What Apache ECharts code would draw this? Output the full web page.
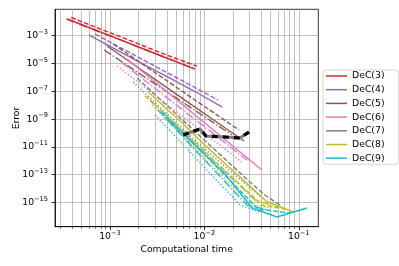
<!DOCTYPE html>
<html><head><meta charset="utf-8">
<script src="https://cdn.jsdelivr.net/npm/echarts@6/dist/echarts.min.js"></script>
<style>html,body{margin:0;padding:0;background:#fff}#c{width:399px;height:266px}</style>
</head><body><div id="c"></div>
<script>
// ---------- data (computational time, error) ----------
const methods = ['DeC(3)','DeC(4)','DeC(5)','DeC(6)','DeC(7)','DeC(8)','DeC(9)'];
const colors = ['#d62728','#9467bd','#8c564b','#e377c2','#7f7f7f','#bcbd22','#17becf'];

const dec3SolidT = [3.63e-4, 6.76e-4, 1.26e-3, 2.29e-3, 4.27e-3, 7.94e-3];
const dec3SolidE = [1.48e-2, 2.88e-3, 5.50e-4, 1.07e-4, 2.09e-5, 3.98e-6];
const dec3DashedT = [3.89e-4, 7.2e-4, 1.35e-3, 2.45e-3, 4.5e-3, 8.3e-3];
const dec3DashedE = [2.04e-2, 3.9e-3, 7.6e-4, 1.5e-4, 3.0e-5, 6.6e-6];
const dec3DashDotT = [3.45e-4, 6.4e-4, 1.2e-3, 2.2e-3, 4.1e-3, 7.6e-3];
const dec3DashDotE = [1.6e-2, 3.1e-3, 6.0e-4, 1.2e-4, 2.3e-5, 4.7e-6];

const dec4SolidT = [6.03e-4, 1.15e-3, 2.19e-3, 4.27e-3, 8.13e-3, 1.55e-2];
const dec4SolidE = [1.12e-3, 1.05e-4, 1.0e-5, 9.3e-7, 8.9e-8, 7.4e-9];
const dec4DashedT = [6.97e-4, 1.48e-3, 3.12e-3, 6.6e-3, 1.40e-2];
const dec4DashedE = [1.32e-3, 8.6e-5, 5.6e-6, 3.64e-7, 2.37e-8];

const dec5SolidT = [9.33e-4, 2.15e-3, 4.95e-3, 1.14e-2, 2.63e-2];
const dec5SolidE = [1.82e-4, 3.55e-6, 6.9e-8, 1.36e-9, 2.65e-11];
const dec5DashedT = [1.08e-3, 2.33e-3, 5.01e-3, 1.08e-2, 2.33e-2];
const dec5DashedE = [2.53e-4, 7.18e-6, 2.04e-7, 5.79e-9, 1.64e-10];
const dec5DashDotT = [8.69e-4, 2.45e-3, 6.95e-3, 1.96e-2];
const dec5DashDotE = [9.35e-5, 8.57e-7, 7.83e-9, 7.18e-11];

const dec6SolidT = [1.52e-3, 3.46e-3, 7.87e-3, 1.79e-2, 4.08e-2];
const dec6SolidE = [2.11e-5, 2.12e-7, 2.14e-9, 2.16e-11, 2.18e-13];
const dec6DashDotT = [1.315e-3, 3.66e-3, 1.02e-2, 2.83e-2];
const dec6DashDotE = [1.28e-5, 5.73e-8, 2.56e-10, 1.14e-12];
const dec6DottedT = [1.19e-3, 3.31e-3, 9.23e-3, 2.56e-2];
const dec6DottedE = [6.61e-6, 3.12e-8, 1.47e-10, 6.95e-13];

const dec7DashedT = [1.94e-3, 4.89e-3, 1.30e-2, 3.04e-2, 4.38e-2, 6.32e-2];
const dec7DashedE = [9.06e-7, 2.75e-9, 5.98e-12, 2.99e-14, 3.47e-15, 6.6e-16];
const dec7DottedT = [1.76e-3, 8.99e-3, 4.08e-2];
const dec7DottedE = [4.67e-7, 1.37e-11, 2.11e-15];

const dec8SolidT = [2.54e-3, 5.53e-3, 1.15e-2, 2.39e-2, 4.50e-2, 8.69e-2];
const dec8SolidE = [8.9e-8, 7.3e-10, 5.98e-12, 6.84e-14, 1.28e-15, 2.07e-16];
const dec8DashedT = [2.36e-3, 1.02e-2, 4.08e-2, 7.14e-2];
const dec8DashedE = [4.59e-8, 4.30e-12, 6.6e-16, 3.40e-16];
const dec8DashDotT = [2.66e-3, 8.99e-3, 3.44e-2, 6.03e-2];
const dec8DashDotE = [2.37e-8, 8.34e-12, 1.51e-15, 4.74e-16];
const dec8DottedT = [2.80e-3, 3.04e-2, 5.0e-2];
const dec8DottedE = [1.03e-8, 7.80e-16, 4.0e-16];

const dec9SolidT = [3.84e-3, 8.99e-3, 1.66e-2, 3.20e-2, 5.87e-2, 1.22e-1];
const dec9SolidE = [1.42e-9, 5.98e-12, 1.12e-13, 4.02e-16, 9.06e-17, 4.02e-16];
const dec9DashedT = [3.56e-3, 1.02e-2, 3.70e-2, 8.07e-2];
const dec9DashedE = [3.24e-9, 2.61e-12, 3.40e-16, 1.76e-16];
const dec9DashDotT = [3.24e-3, 7.98e-3, 2.83e-2, 4.72e-2];
const dec9DashDotE = [4.52e-9, 5.98e-12, 6.6e-16, 2.88e-16];
const dec9DottedT = [3.01e-3, 7.06e-3, 2.39e-2, 3.88e-2];
const dec9DottedE = [1.97e-9, 4.30e-12, 6.6e-16, 2.07e-16];

// thick grey/black stagnating line
const refT = [5.96e-3, 8.99e-3, 1.04e-2, 1.66e-2, 2.38e-2, 2.97e-2];
const refE = [7.18e-11, 1.94e-10, 6.08e-11, 5.15e-11, 4.37e-11, 1.18e-10];

// axes
const xRange = [2.62e-4, 0.161];
const yRange = [1.82e-17, 7.94e-2];
const xMajorTicks = [1e-3, 1e-2, 1e-1];
const xMinorTicks = [3e-4,4e-4,5e-4,6e-4,7e-4,8e-4,9e-4,2e-3,3e-3,4e-3,5e-3,6e-3,7e-3,8e-3,9e-3,2e-2,3e-2,4e-2,5e-2,6e-2,7e-2,8e-2,9e-2];
const yTicks = [1e-15,1e-13,1e-11,1e-9,1e-7,1e-5,1e-3];

// ---------- build ----------
const L = Math.log10;
const pts = (t, e) => t.map((v, i) => [L(v), L(e[i])]);
const dash = {solid:'solid', dashed:[4.8,2.1], dashdot:[8.3,2.1,1.3,2.1], dotted:[1.3,2.1]};
const lines = [
  [0,'solid',dec3SolidT,dec3SolidE],[0,'dashed',dec3DashedT,dec3DashedE],[0,'dashdot',dec3DashDotT,dec3DashDotE],
  [1,'solid',dec4SolidT,dec4SolidE],[1,'dashed',dec4DashedT,dec4DashedE],
  [2,'solid',dec5SolidT,dec5SolidE],[2,'dashed',dec5DashedT,dec5DashedE],[2,'dashdot',dec5DashDotT,dec5DashDotE],
  [3,'solid',dec6SolidT,dec6SolidE],[3,'dashdot',dec6DashDotT,dec6DashDotE],[3,'dotted',dec6DottedT,dec6DottedE],
  [4,'dashed',dec7DashedT,dec7DashedE],[4,'dotted',dec7DottedT,dec7DottedE],
  [5,'solid',dec8SolidT,dec8SolidE],[5,'dashed',dec8DashedT,dec8DashedE],[5,'dashdot',dec8DashDotT,dec8DashDotE],[5,'dotted',dec8DottedT,dec8DottedE],
  [6,'solid',dec9SolidT,dec9SolidE],[6,'dashed',dec9DashedT,dec9DashedE],[6,'dashdot',dec9DashDotT,dec9DashDotE],[6,'dotted',dec9DottedT,dec9DottedE]
];
const series = lines.map(([ci, st, t, e]) => ({
  type:'line', name: methods[ci], data: pts(t, e), symbol:'none', silent:true,
  lineStyle:{color:colors[ci], width:1.4, type:dash[st]}, itemStyle:{color:colors[ci]}
}));
series.push({type:'line', name:'ref1', data:pts(refT, refE), symbol:'none', silent:true,
  lineStyle:{color:'#7f7f7f', width:3.2, type:'solid'}});
series.push({type:'line', name:'ref2', data:pts(refT, refE), symbol:'none', silent:true,
  lineStyle:{color:'#000000', width:3.2, type:[6,5]}});

const font = 'DejaVu Sans';
const fmt = v => '{b|10}{s|\u2212' + Math.abs(Math.round(v)) + '}';
const rich = {
  b:{fontSize:9.3, fontFamily:font, color:'#000', lineHeight:14},
  s:{fontSize:6.6, fontFamily:font, color:'#000', lineHeight:7, verticalAlign:'top'}
};
const gridLine = {show:true, lineStyle:{color:'#b0b0b0', width:0.8}};

const chart = echarts.init(document.getElementById('c'), null, {renderer:'canvas'});
chart.setOption({
  animation:false,
  backgroundColor:'#fff',
  grid:{left:55, right:80.7, top:9.3, bottom:39.3, show:true, borderColor:'#000', borderWidth:0.8, outerBoundsMode:'none'},
  xAxis:[{
    type:'value', min:L(xRange[0]), max:L(xRange[1]), position:'bottom',
    axisLine:{show:true, onZero:false, lineStyle:{color:'#000', width:0.8}},
    axisTick:{show:true, customValues:xMajorTicks.map(L), length:3.5, lineStyle:{color:'#000', width:0.8}},
    axisLabel:{customValues:xMajorTicks.map(L), formatter:fmt, rich:rich, margin:3, color:'#000'},
    splitLine:gridLine,
    name:'Computational time', nameLocation:'middle', nameGap:18, nameMoveOverlap:false,
    nameTextStyle:{fontSize:9.3, fontFamily:font, color:'#000'}
  },{
    type:'value', min:L(xRange[0]), max:L(xRange[1]), position:'bottom',
    axisLine:{show:false, onZero:false},
    axisTick:{show:true, customValues:xMinorTicks.map(L), length:2, lineStyle:{color:'#000', width:0.6}},
    axisLabel:{show:false},
    splitLine:gridLine
  }],
  yAxis:{
    type:'value', min:L(yRange[0]), max:L(yRange[1]),
    axisLine:{show:true, onZero:false, lineStyle:{color:'#000', width:0.8}},
    axisTick:{show:true, customValues:yTicks.map(L), length:3.5, lineStyle:{color:'#000', width:0.8}},
    axisLabel:{customValues:yTicks.map(L), formatter:fmt, rich:rich, margin:7, color:'#000'},
    splitLine:gridLine,
    name:'Error', nameLocation:'middle', nameGap:34, nameMoveOverlap:false,
    nameTextStyle:{fontSize:9.3, fontFamily:font, color:'#000'}
  },
  legend:{
    data:methods, orient:'vertical', left:323, top:70, icon:'rect',
    itemWidth:21, itemHeight:1.5, itemGap:3.7, padding:[1,14,1,3],
    textStyle:{fontSize:9.3, fontFamily:font, color:'#000', lineHeight:10},
    borderColor:'#cccccc', borderWidth:0.8, borderRadius:3, backgroundColor:'rgba(255,255,255,0.8)',
    selectedMode:false
  },
  series:series
});
</script></body></html>
